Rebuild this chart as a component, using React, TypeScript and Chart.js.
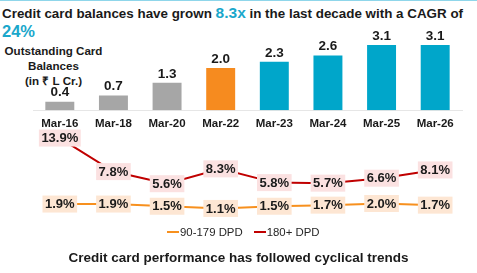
import { useEffect, useRef } from "react";
import { Chart, registerables } from "chart.js";

Chart.register(...registerables);

const FONT = '"Liberation Sans", Arial, Helvetica, sans-serif';

// Fiscal year-end periods shared by both panels
const periods = ["Mar-16", "Mar-18", "Mar-20", "Mar-22", "Mar-23", "Mar-24", "Mar-25", "Mar-26"];

// Outstanding card balances, ₹ lakh crore
const balances = [0.4, 0.7, 1.3, 2.0, 2.3, 2.6, 3.1, 3.1];
const balanceColors = ["#A6A6A6", "#A6A6A6", "#A6A6A6", "#F68B1F", "#00A6CA", "#00A6CA", "#00A6CA", "#00A6CA"];

// Delinquency buckets, % of balances
const dpd90to179 = [1.9, 1.9, 1.5, 1.1, 1.5, 1.7, 2.0, 1.7];
const dpd180plus = [13.9, 7.8, 5.6, 8.3, 5.8, 5.7, 6.6, 8.1];

const seriesNames = ["90-179 DPD", "180+ DPD"];
const lineColors = ["#F7901E", "#C00000"];
const labelBoxColors = ["#FDE6D3", "#FBE1E1"];

const W = 477;
const H = 273;

const barValueLabels = {
  id: "barValueLabels",
  afterDatasetsDraw(chart: any) {
    const ctx = chart.ctx;
    const meta = chart.getDatasetMeta(0);
    ctx.save();
    ctx.font = `bold 13.5px ${FONT}`;
    ctx.fillStyle = "#1A1A1A";
    ctx.textAlign = "center";
    ctx.textBaseline = "middle";
    meta.data.forEach((el: any, i: number) => {
      ctx.fillText(balances[i].toFixed(1), el.x, el.y - 9);
    });
    ctx.restore();
  },
};

const pointValueLabels = {
  id: "pointValueLabels",
  afterDatasetsDraw(chart: any) {
    const ctx = chart.ctx;
    ctx.save();
    ctx.font = `bold 13px ${FONT}`;
    ctx.textAlign = "center";
    ctx.textBaseline = "middle";
    chart.data.datasets.forEach((ds: any, d: number) => {
      const meta = chart.getDatasetMeta(d);
      meta.data.forEach((el: any, i: number) => {
        const text = ds.data[i].toFixed(1) + "%";
        const w = ctx.measureText(text).width + 5;
        const h = 17;
        ctx.fillStyle = labelBoxColors[d];
        ctx.fillRect(el.x - w / 2, el.y - h / 2, w, h);
        ctx.fillStyle = "#1A1A1A";
        ctx.fillText(text, el.x, el.y + 0.5);
      });
    });
    ctx.restore();
  },
};

export default function App() {
  const barRef = useRef<HTMLCanvasElement>(null);
  const lineRef = useRef<HTMLCanvasElement>(null);

  useEffect(() => {
    document.body.style.margin = "0";

    const bar = new Chart(barRef.current!, {
      type: "bar",
      data: {
        labels: periods,
        datasets: [
          {
            data: balances,
            backgroundColor: balanceColors,
            barPercentage: 0.54,
            categoryPercentage: 1,
          },
        ],
      },
      options: {
        responsive: false,
        animation: false,
        events: [],
        layout: { padding: { left: 33, right: 15, top: 26, bottom: 135 } },
        plugins: { legend: { display: false }, tooltip: { enabled: false } },
        scales: {
          x: {
            grid: { display: false, drawTicks: false },
            border: { display: true, color: "#E6E6E6", width: 1 },
            ticks: {
              color: "#1A1A1A",
              padding: 7,
              font: { family: FONT, size: 11.5, weight: "bold" },
            },
          },
          y: { display: false, min: 0, max: 4 },
        },
      },
      plugins: [barValueLabels],
    });

    const line = new Chart(lineRef.current!, {
      type: "line",
      data: {
        labels: periods,
        datasets: [
          {
            label: seriesNames[0],
            data: dpd90to179,
            borderColor: lineColors[0],
            borderWidth: 2,
            pointRadius: 0,
            tension: 0,
          },
          {
            label: seriesNames[1],
            data: dpd180plus,
            borderColor: lineColors[1],
            borderWidth: 2,
            pointRadius: 0,
            tension: 0,
          },
        ],
      },
      options: {
        responsive: false,
        animation: false,
        events: [],
        layout: { padding: { left: 33, right: 15, top: 126.5, bottom: 58.5 } },
        plugins: { legend: { display: false }, tooltip: { enabled: false } },
        scales: {
          x: { display: false, offset: true },
          y: { display: false, min: 0, max: 16 },
        },
      },
      plugins: [pointValueLabels],
    });

    return () => {
      bar.destroy();
      line.destroy();
    };
  }, []);

  const abs = { position: "absolute" as const };

  return (
    <div
      style={{
        position: "relative",
        width: W,
        height: H,
        overflow: "hidden",
        background: "#FFFFFF",
        fontFamily: FONT,
        color: "#1A1A1A",
      }}
    >
      <div style={{ ...abs, left: 0, top: 0, width: W, height: 1, background: "#8FD6EA" }} />
      <div
        style={{
          ...abs,
          left: 2,
          top: 4,
          fontSize: 13.4,
          fontWeight: "bold",
          lineHeight: "17px",
          whiteSpace: "nowrap",
        }}
      >
        Credit card balances have grown{" "}
        <span style={{ color: "#1AA7CB", fontSize: 15.5 }}>8.3x</span> in the last decade with a CAGR of
      </div>
      <div
        style={{
          ...abs,
          left: 2,
          top: 22,
          fontSize: 16.5,
          fontWeight: "bold",
          lineHeight: "18px",
          color: "#1AA7CB",
        }}
      >
        24%
      </div>
      <div
        style={{
          ...abs,
          left: 0,
          top: 43,
          width: 107,
          textAlign: "center",
          fontSize: 11.6,
          fontWeight: "bold",
          lineHeight: "15px",
          whiteSpace: "nowrap",
        }}
      >
        Outstanding Card
        <br />
        Balances
        <br />
        (in ₹ L Cr.)
      </div>
      <canvas ref={barRef} width={W} height={H} style={{ ...abs, left: 0, top: 0 }} />
      <canvas ref={lineRef} width={W} height={H} style={{ ...abs, left: 0, top: 0 }} />
      <div
        style={{
          ...abs,
          left: 167,
          top: 225,
          display: "flex",
          fontSize: 11.4,
          lineHeight: "14px",
          color: "#262626",
          whiteSpace: "nowrap",
        }}
      >
        {seriesNames.map((name, i) => (
          <span key={name} style={{ display: "inline-flex", alignItems: "center", marginLeft: i ? 11 : 0 }}>
            <span style={{ display: "inline-block", width: 12, height: 2, background: lineColors[i], marginRight: 1 }} />
            {name}
          </span>
        ))}
      </div>
      <div
        style={{
          ...abs,
          left: 0,
          top: 250,
          width: W,
          textAlign: "center",
          fontSize: 13.5,
          fontWeight: "bold",
          lineHeight: "16px",
          paddingRight: 2,
          whiteSpace: "nowrap",
        }}
      >
        Credit card performance has followed cyclical trends
      </div>
    </div>
  );
}
